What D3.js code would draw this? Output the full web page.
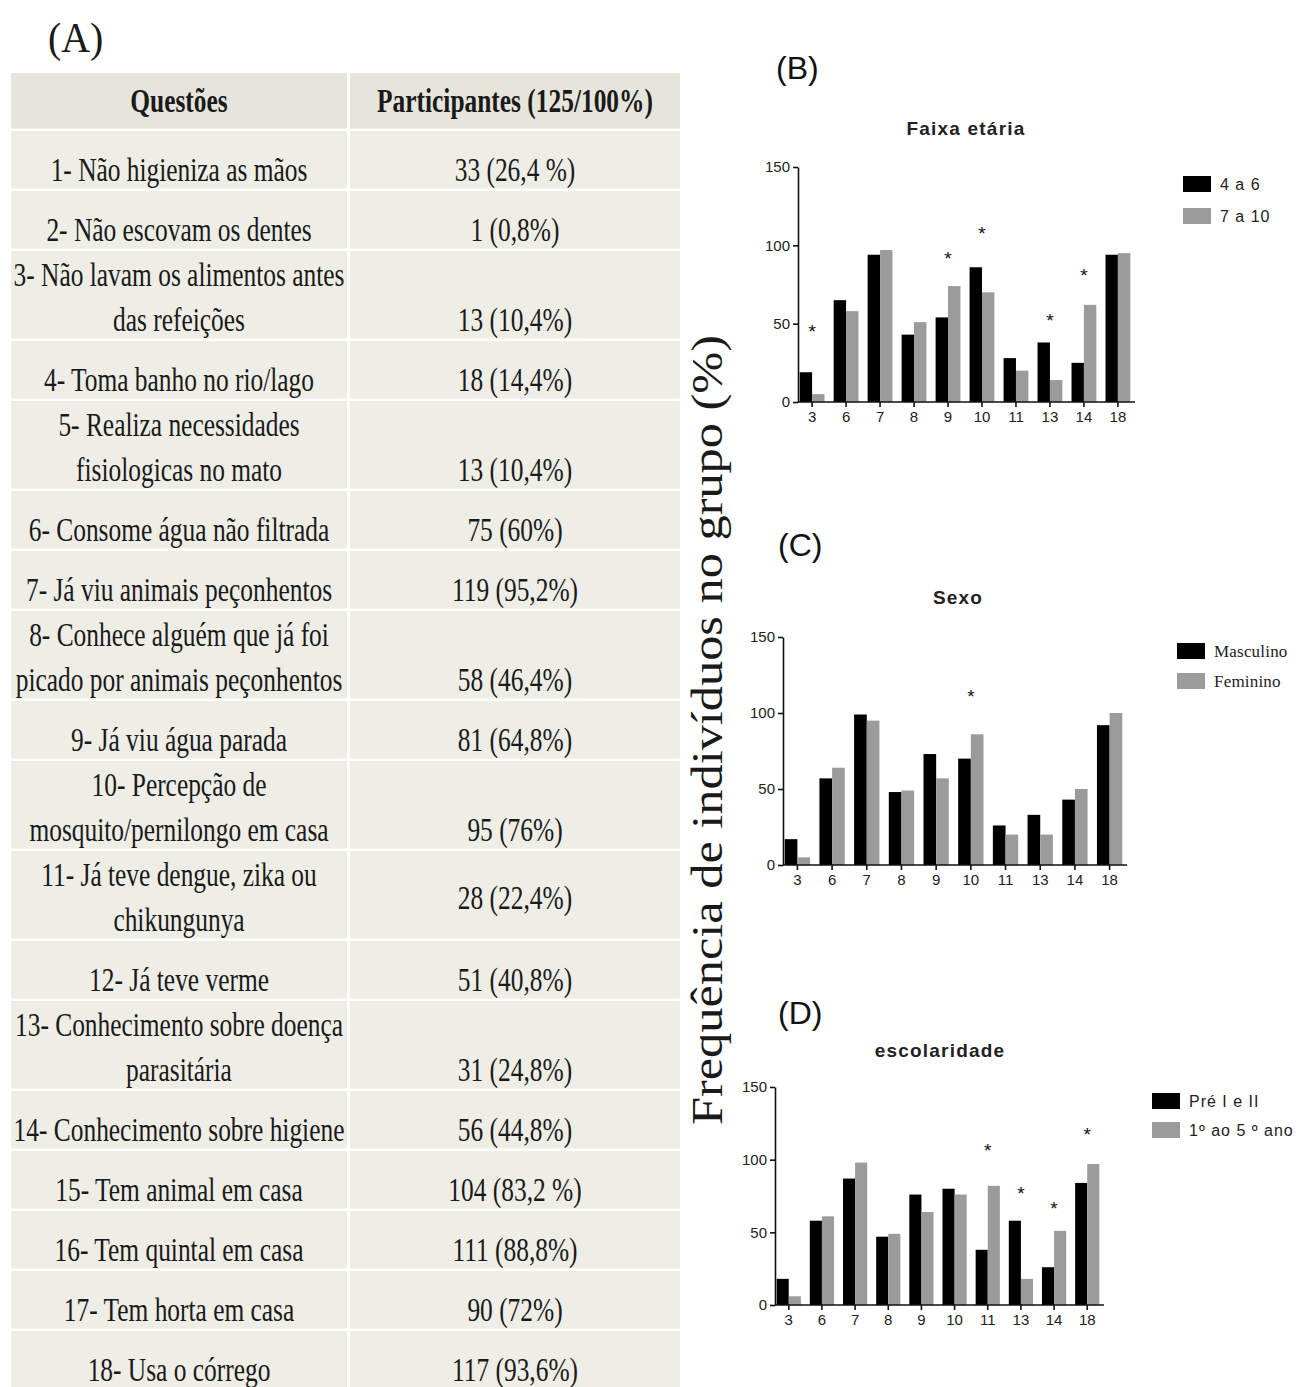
<!DOCTYPE html>
<html>
<head>
<meta charset="utf-8">
<script src="https://cdn.jsdelivr.net/npm/d3@7"></script>
<style>
  body { margin: 0; background: #fff; }
</style>
</head>
<body>
<div id="chart"></div>
<script>
// ---- table (A) ----
const questions = [
    ['1- Não higieniza as mãos'],
    ['2- Não escovam os dentes'],
    ['3- Não lavam os alimentos antes', 'das refeições'],
    ['4- Toma banho no rio/lago'],
    ['5- Realiza necessidades', 'fisiologicas no mato'],
    ['6- Consome água não filtrada'],
    ['7- Já viu animais peçonhentos'],
    ['8- Conhece alguém que já foi', 'picado por animais peçonhentos'],
    ['9- Já viu água parada'],
    ['10- Percepção de', 'mosquito/pernilongo em casa'],
    ['11- Já teve dengue, zika ou', 'chikungunya'],
    ['12- Já teve verme'],
    ['13- Conhecimento sobre doença', 'parasitária'],
    ['14- Conhecimento sobre higiene'],
    ['15- Tem animal em casa'],
    ['16- Tem quintal em casa'],
    ['17- Tem horta em casa'],
    ['18- Usa o córrego']
];
const answers = ['33 (26,4 %)', '1 (0,8%)', '13 (10,4%)', '18 (14,4%)', '13 (10,4%)', '75 (60%)',
    '119 (95,2%)', '58 (46,4%)', '81 (64,8%)', '95 (76%)', '28 (22,4%)', '51 (40,8%)',
    '31 (24,8%)', '56 (44,8%)', '104 (83,2 %)', '111 (88,8%)', '90 (72%)', '117 (93,6%)'];
// row 11 has its value centred between the two lines
const centredAnswer = [10];

// ---- bar charts (B, C, D) ----
const categories = ['3', '6', '7', '8', '9', '10', '11', '13', '14', '18'];
const yTicks = [0, 50, 100, 150];

const faixaLabels = ['4 a 6', '7 a 10'];
const faixa4a6 = [19, 65, 94, 43, 54, 86, 28, 38, 25, 94];
const faixa7a10 = [5, 58, 97, 51, 74, 70, 20, 14, 62, 95];
const faixaStarCats = ['3', '9', '10', '13', '14'];
const faixaStarVals = [47, 94, 110, 54, 83];

const sexoLabels = ['Masculino', 'Feminino'];
const sexoMasc = [17, 57, 99, 48, 73, 70, 26, 33, 43, 92];
const sexoFem = [5, 64, 95, 49, 57, 86, 20, 20, 50, 100];
const sexoStarCats = ['10'];
const sexoStarVals = [113];

const escLabels = ['Pré I e II', '1º ao 5 º ano'];
const escPre = [18, 58, 87, 47, 76, 80, 38, 58, 26, 84];
const esc1a5 = [6, 61, 98, 49, 64, 76, 82, 18, 51, 97];
const escStarCats = ['11', '13', '14', '18'];
const escStarVals = [109, 79, 69, 120];

const SANS = '"Liberation Sans", Arial, sans-serif';
const SERIF = '"Liberation Serif", "Times New Roman", serif';

const svg = d3.select('#chart')
    .append('svg')
    .attr('width', 1302)
    .attr('height', 1387);

// ---------- table ----------
const table = svg.append('g');
const colL = [11, 347], colR = [350, 680];
const squeeze = 0.77;

table.append('text')
    .attr('transform', 'translate(48, 52) scale(0.95,1)')
    .attr('font-family', SERIF).attr('font-size', 42).attr('fill', '#1a1a1a')
    .text('(A)');

table.append('rect').attr('x', colL[0]).attr('y', 73).attr('width', colL[1] - colL[0]).attr('height', 55.5).attr('fill', '#e6e5db');
table.append('rect').attr('x', colR[0]).attr('y', 73).attr('width', colR[1] - colR[0]).attr('height', 55.5).attr('fill', '#e6e5db');
table.append('text')
    .attr('transform', `translate(${(colL[0] + colL[1]) / 2}, 112) scale(${squeeze},1)`)
    .attr('text-anchor', 'middle').attr('font-family', SERIF).attr('font-weight', 'bold')
    .attr('font-size', 33).attr('fill', '#1a1a1a').text('Questões');
table.append('text')
    .attr('transform', `translate(${(colR[0] + colR[1]) / 2}, 112) scale(${squeeze},1)`)
    .attr('text-anchor', 'middle').attr('font-family', SERIF).attr('font-weight', 'bold')
    .attr('font-size', 33).attr('fill', '#1a1a1a').text('Participantes (125/100%)');

let rowTop = 131;
questions.forEach((lines, i) => {
    const h = lines.length === 1 ? 60 : 90;
    const row = table.append('g');
    row.append('rect').attr('x', colL[0]).attr('y', rowTop).attr('width', colL[1] - colL[0]).attr('height', h - 2.5).attr('fill', '#eeede6');
    row.append('rect').attr('x', colR[0]).attr('y', rowTop).attr('width', colR[1] - colR[0]).attr('height', h - 2.5).attr('fill', '#eeede6');
    const base = rowTop + h - 10;
    lines.forEach((line, j) => {
        row.append('text')
            .attr('transform', `translate(${(colL[0] + colL[1]) / 2}, ${base - (lines.length - 1 - j) * 45}) scale(${squeeze},1)`)
            .attr('text-anchor', 'middle').attr('font-family', SERIF)
            .attr('font-size', 33).attr('fill', '#1a1a1a').text(line);
    });
    const vBase = centredAnswer.includes(i) ? base - 22 : base;
    row.append('text')
        .attr('transform', `translate(${(colR[0] + colR[1]) / 2}, ${vBase}) scale(${squeeze},1)`)
        .attr('text-anchor', 'middle').attr('font-family', SERIF)
        .attr('font-size', 33).attr('fill', '#1a1a1a').text(answers[i]);
    rowTop += h;
});

// shared y label
svg.append('text')
    .attr('transform', 'translate(722, 730) rotate(-90)')
    .attr('text-anchor', 'middle')
    .attr('font-family', SERIF).attr('font-size', 44).attr('fill', '#1a1a1a')
    .attr('textLength', 790).attr('lengthAdjust', 'spacingAndGlyphs')
    .text('Frequência de indivíduos no grupo (%)');

// ---------- bar charts ----------
function barChart(o) {
    const g = svg.append('g');

    const x = d3.scaleBand().domain(categories).range([o.x0, o.x1])
        .paddingInner(0.27).paddingOuter(0.05);
    const xs = d3.scaleBand().domain([0, 1]).range([0, x.bandwidth()]);
    const y = d3.scaleLinear().domain([0, 150]).range([o.yBottom, o.yTop]);
    const colors = ['#000000', '#9b9b9b'];

    g.append('text')
        .attr('x', o.labelX).attr('y', o.labelY)
        .attr('font-family', SANS).attr('font-size', 32).attr('fill', '#111')
        .text(o.panel);

    g.append('text')
        .attr('x', o.titleX).attr('y', o.titleY)
        .attr('text-anchor', 'middle')
        .attr('font-family', SANS).attr('font-weight', 'bold')
        .attr('font-size', 19).attr('letter-spacing', 1.2).attr('fill', '#222')
        .text(o.title);

    [o.s1, o.s2].forEach((vals, si) => {
        g.append('g').selectAll('rect')
            .data(vals)
            .join('rect')
            .attr('x', (d, i) => x(categories[i]) + xs(si))
            .attr('width', xs.bandwidth())
            .attr('y', d => y(d))
            .attr('height', d => y(0) - y(d))
            .attr('fill', colors[si]);
    });

    g.append('g').selectAll('text')
        .data(o.starCats)
        .join('text')
        .attr('x', d => x(d) + x.bandwidth() / 2)
        .attr('y', (d, i) => y(o.starVals[i]) + 10)
        .attr('text-anchor', 'middle')
        .attr('font-family', SANS).attr('font-size', 19).attr('fill', '#111')
        .text('*');

    const xAxis = g.append('g')
        .attr('transform', `translate(0, ${o.yBottom})`)
        .call(d3.axisBottom(x).tickSize(5).tickSizeOuter(0).tickPadding(4));
    const yAxis = g.append('g')
        .attr('transform', `translate(${o.x0}, 0)`)
        .call(d3.axisLeft(y).tickValues(yTicks).tickSize(5).tickSizeOuter(0).tickPadding(3));
    [xAxis, yAxis].forEach(a => {
        a.selectAll('path, line').attr('stroke', '#111').attr('stroke-width', 1.6);
        a.selectAll('text').attr('font-family', SANS).attr('font-size', 15).attr('fill', '#222');
    });
    xAxis.select('.domain').attr('d', `M${o.x0},0H${o.x1 + 3}`);

    o.legend.forEach((name, i) => {
        const ly = o.legendY[i];
        g.append('rect')
            .attr('x', o.legendX).attr('y', ly - 8)
            .attr('width', 28).attr('height', 16)
            .attr('fill', colors[i]);
        g.append('text')
            .attr('x', o.legendX + 37).attr('y', ly)
            .attr('dy', '0.35em')
            .attr('font-family', o.legendFont).attr('font-size', o.legendSize)
            .attr('letter-spacing', o.legendSpacing).attr('fill', '#222')
            .text(name);
    });
}

barChart({
    panel: '(B)', labelX: 776, labelY: 79,
    title: 'Faixa etária', titleX: 966, titleY: 135,
    x0: 798, x1: 1132, yBottom: 402, yTop: 167,
    s1: faixa4a6, s2: faixa7a10,
    starCats: faixaStarCats, starVals: faixaStarVals,
    legend: faixaLabels, legendX: 1183, legendY: [184, 216],
    legendFont: SANS, legendSize: 16, legendSpacing: 1
});

barChart({
    panel: '(C)', labelX: 778, labelY: 556,
    title: 'Sexo', titleX: 958, titleY: 604,
    x0: 783, x1: 1124, yBottom: 865, yTop: 637,
    s1: sexoMasc, s2: sexoFem,
    starCats: sexoStarCats, starVals: sexoStarVals,
    legend: sexoLabels, legendX: 1177, legendY: [651, 681],
    legendFont: SERIF, legendSize: 17, legendSpacing: 0.2
});

barChart({
    panel: '(D)', labelX: 778, labelY: 1024,
    title: 'escolaridade', titleX: 940, titleY: 1057,
    x0: 775, x1: 1101, yBottom: 1305, yTop: 1087,
    s1: escPre, s2: esc1a5,
    starCats: escStarCats, starVals: escStarVals,
    legend: escLabels, legendX: 1152, legendY: [1101, 1130],
    legendFont: SANS, legendSize: 16, legendSpacing: 1
});
</script>
</body>
</html>
